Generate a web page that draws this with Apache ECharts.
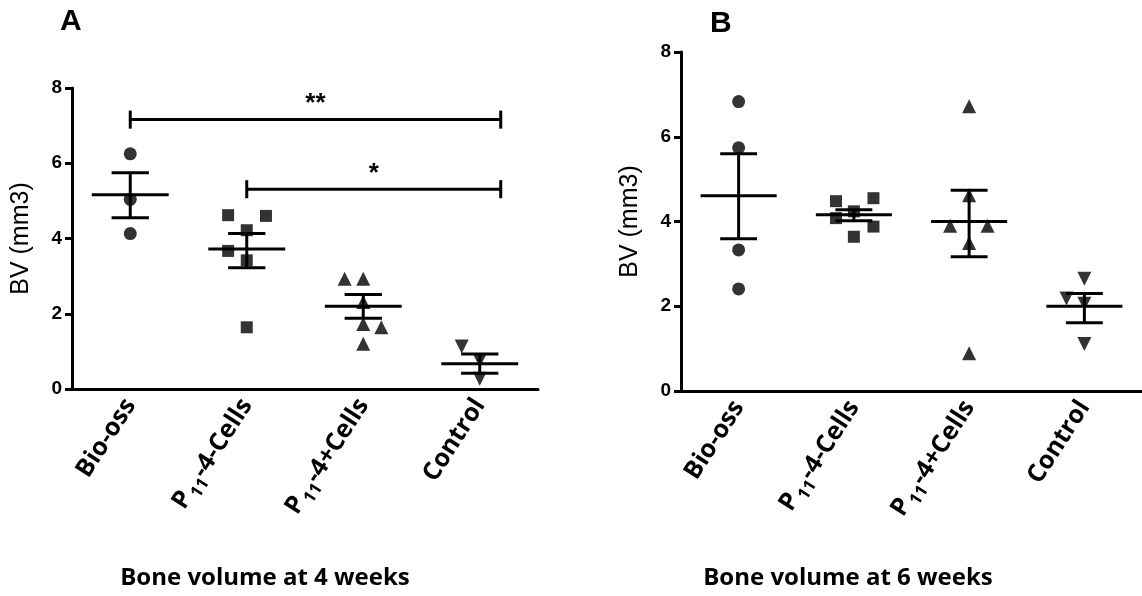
<!DOCTYPE html>
<html><head><meta charset="utf-8">
<script src="https://cdn.jsdelivr.net/npm/echarts@6/dist/echarts.min.js"></script>
<style>html,body{margin:0;padding:0;background:#fff}#c{width:1142px;height:596px}</style>
</head><body><div id="c"></div>
<script>
// ---------- data ----------
const categories = ['Bio-oss', 'P11-4-Cells', 'P11-4+Cells', 'Control'];
const yTicks = [0, 2, 4, 6, 8];

// Panel A (4 weeks)
const a_bioOss = [6.25, 5.04, 4.13];
const a_bioOssJit = [0, 0, 0];
const a_p11minus = [4.62, 4.60, 4.22, 3.67, 3.42, 1.64];
const a_p11minusJit = [-0.16, 0.165, 0, -0.16, 0, 0];
const a_p11plus = [2.93, 2.93, 2.31, 1.73, 1.64, 1.20];
const a_p11plusJit = [-0.16, 0, 0, 0, 0.155, 0];
const a_control = [1.13, 0.76, 0.27];
const a_controlJit = [-0.155, 0, 0];
const a_mean = [5.16, 3.72, 2.20, 0.67];
const a_semLo = [4.55, 3.22, 1.88, 0.42];
const a_semHi = [5.75, 4.13, 2.51, 0.93];
const a_sigFrom = [0, 1];
const a_sigTo = [3.18, 3.18];
const a_sigY = [7.16, 5.31];
const a_sigLabel = ['**', '*'];

// Panel B (6 weeks)
const b_bioOss = [6.83, 5.74, 3.33, 2.41];
const b_bioOssJit = [0, 0, 0, 0];
const b_p11minus = [4.48, 4.55, 4.24, 4.08, 3.88, 3.64];
const b_p11minusJit = [-0.155, 0.17, 0, -0.155, 0.17, 0];
const b_p11plus = [6.72, 4.62, 3.90, 3.90, 3.49, 0.89];
const b_p11plusJit = [0, 0, -0.165, 0.16, 0, 0];
const b_control = [2.65, 2.18, 2.06, 1.11];
const b_controlJit = [0, -0.155, 0, 0];
const b_mean = [4.61, 4.16, 4.00, 2.00];
const b_semLo = [3.59, 4.02, 3.17, 1.61];
const b_semHi = [5.60, 4.28, 4.74, 2.30];

const titles = ['A', 'B'];
const subTitles = ['Bone volume at 4 weeks', 'Bone volume at 6 weeks'];
const yName = 'BV (mm3)';

// ---------- build ----------
const LBL_FONT = '"Open Sans", sans-serif';
const AX_FONT = '"Liberation Sans", Arial, sans-serif';
function catLabel(v) {
  if (v.indexOf('P11') === 0) return '{n|P}{s|11}{n|' + v.slice(3) + '}';
  return '{n|' + v + '}';
}
function pts(vals, jit, idx) { return vals.map((v, i) => [idx + jit[i], v]); }

function scatter(xi, yi, data, symbol, size, rot) {
  return { type: 'scatter', xAxisIndex: xi, yAxisIndex: yi, data: data, symbol: symbol,
    symbolSize: size, symbolRotate: rot || 0, itemStyle: { color: '#000' }, silent: true, z: 3 };
}
function meanSem(xi, yi, mean, lo, hi) {
  return { type: 'custom', xAxisIndex: xi, yAxisIndex: yi, z: 4, silent: true,
    data: mean.map((m, i) => [i, m, lo[i], hi[i]]),
    renderItem: function (params, api) {
      const x = api.value(0), m = api.value(1), l = api.value(2), h = api.value(3);
      const st = { stroke: '#000', lineWidth: 3 };
      const seg = (a, b) => ({ type: 'line', shape: { x1: a[0], y1: a[1], x2: b[0], y2: b[1] }, style: st });
      return { type: 'group', children: [
        seg(api.coord([x - 0.33, m]), api.coord([x + 0.33, m])),
        seg(api.coord([x, l]), api.coord([x, h])),
        seg(api.coord([x - 0.16, l]), api.coord([x + 0.16, l])),
        seg(api.coord([x - 0.16, h]), api.coord([x + 0.16, h]))
      ] };
    } };
}
function sigSeries(xi, yi) {
  return { type: 'custom', xAxisIndex: xi, yAxisIndex: yi, z: 4, silent: true,
    data: a_sigFrom.map((f, i) => [f, a_sigTo[i], a_sigY[i], i]),
    renderItem: function (params, api) {
      const f = api.value(0), t = api.value(1), y = api.value(2), i = api.value(3);
      const st = { stroke: '#000', lineWidth: 3 };
      const seg = (a, b) => ({ type: 'line', shape: { x1: a[0], y1: a[1], x2: b[0], y2: b[1] }, style: st });
      const tp = api.coord([(f + t) / 2, y + 0.42]);
      return { type: 'group', children: [
        seg(api.coord([f, y]), api.coord([t, y])),
        seg(api.coord([f, y - 0.24]), api.coord([f, y + 0.24])),
        seg(api.coord([t, y - 0.24]), api.coord([t, y + 0.24])),
        { type: 'text', x: tp[0], y: tp[1], style: { text: a_sigLabel[i], fill: '#000',
          font: 'bold 26px "Liberation Sans", Arial', align: 'center', verticalAlign: 'middle' } }
      ] };
    } };
}

const gridA = { left: 72, top: 88, width: 466, height: 301 };
const gridB = { left: 681, top: 52, width: 464, height: 339 };

function catAxis(gi) {
  return { type: 'category', gridIndex: gi, data: categories, boundaryGap: true,
    axisLine: { lineStyle: { color: '#000', width: 3 } },
    axisTick: { alignWithLabel: true, length: 7, lineStyle: { color: '#000', width: 3 } },
    axisLabel: { rotate: 57, margin: 12, color: '#000', formatter: catLabel,
      rich: { n: { fontFamily: LBL_FONT, fontWeight: 'bold', fontSize: 25, color: '#000', lineHeight: 34 },
              s: { fontFamily: LBL_FONT, fontWeight: 'bold', fontSize: 17, color: '#000', lineHeight: 34,
                   verticalAlign: 'bottom', padding: [0, 0, 0, 2] } } } };
}
function valX(gi) { return { type: 'value', gridIndex: gi, min: -0.5, max: 3.5, show: false }; }
function yAx(gi, gap) {
  return { type: 'value', gridIndex: gi, min: yTicks[0], max: yTicks[yTicks.length - 1], interval: 2,
    name: yName, nameLocation: 'middle', nameGap: gap, nameRotate: 90,
    nameTextStyle: { color: '#000', fontSize: 25, fontFamily: AX_FONT },
    splitLine: { show: false },
    axisLine: { show: true, onZero: false, lineStyle: { color: '#000', width: 3 } },
    axisTick: { show: true, length: 7, lineStyle: { color: '#000', width: 3 } },
    axisLabel: { color: '#000', fontSize: 19, fontWeight: 'bold', margin: 10, fontFamily: AX_FONT } };
}

const option = {
  animation: false,
  backgroundColor: '#fff',
  grid: [gridA, gridB],
  xAxis: [catAxis(0), valX(0), catAxis(1), valX(1)],
  yAxis: [yAx(0, 38), yAx(1, 38)],
  title: [
    { text: titles[0], left: 55, top: 2, textStyle: { fontSize: 30, fontWeight: 'bold', color: '#000', fontFamily: AX_FONT } },
    { text: titles[1], left: 705, top: 4, textStyle: { fontSize: 30, fontWeight: 'bold', color: '#000', fontFamily: AX_FONT } },
    { text: subTitles[0], left: 260, textAlign: 'center', top: 561, textStyle: { fontSize: 24, fontWeight: 'bold', color: '#000', fontFamily: LBL_FONT } },
    { text: subTitles[1], left: 843, textAlign: 'center', top: 561, textStyle: { fontSize: 24, fontWeight: 'bold', color: '#000', fontFamily: LBL_FONT } }
  ],
  series: [
    scatter(1, 0, pts(a_bioOss, a_bioOssJit, 0), 'circle', 13),
    scatter(1, 0, pts(a_p11minus, a_p11minusJit, 1), 'rect', 12),
    scatter(1, 0, pts(a_p11plus, a_p11plusJit, 2), 'triangle', 14),
    scatter(1, 0, pts(a_control, a_controlJit, 3), 'triangle', 14, 180),
    meanSem(1, 0, a_mean, a_semLo, a_semHi),
    sigSeries(1, 0),
    scatter(3, 1, pts(b_bioOss, b_bioOssJit, 0), 'circle', 13),
    scatter(3, 1, pts(b_p11minus, b_p11minusJit, 1), 'rect', 12),
    scatter(3, 1, pts(b_p11plus, b_p11plusJit, 2), 'triangle', 14),
    scatter(3, 1, pts(b_control, b_controlJit, 3), 'triangle', 14, 180),
    meanSem(3, 1, b_mean, b_semLo, b_semHi)
  ]
};
echarts.init(document.getElementById('c'), null, { renderer: 'canvas' }).setOption(option);
</script></body></html>
